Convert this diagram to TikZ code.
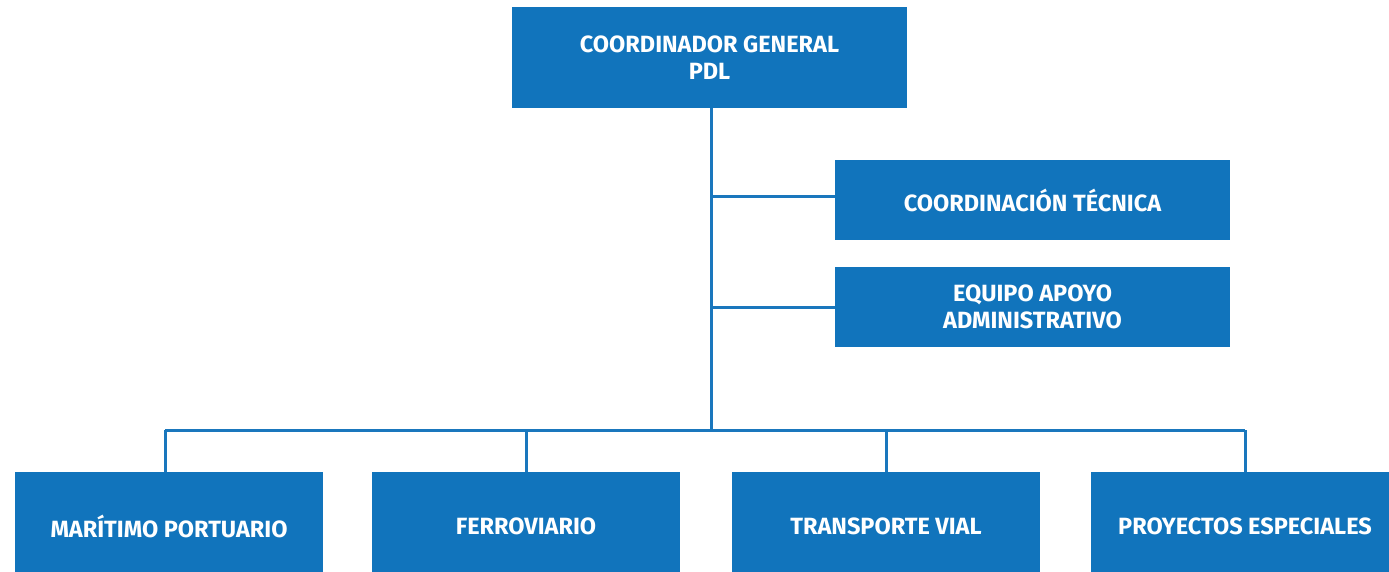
\documentclass[tikz,border=0pt]{standalone}
\usepackage{fontspec}
\setmainfont{Fira Sans}
\definecolor{boxblue}{HTML}{1174BC}
\definecolor{lineblue}{HTML}{1A77BD}
\begin{document}
\begin{tikzpicture}[x=1pt,y=-1pt,
  unit/.style={draw=none,fill=boxblue,text=white,align=center,inner sep=0pt,
    font=\fontsize{23.5}{27}\selectfont\bfseries},
  link/.style={draw=lineblue,line width=3pt}]
\useasboundingbox (0,0) rectangle (1389,572);
\clip (0,0) rectangle (1389,572);
\node[unit,minimum width=395pt,minimum height=101pt] (top) at (709.5,57.5) {COORDINADOR GENERAL\\PDL};
\node[unit,minimum width=395pt,minimum height=80pt] (ct) at (1032.5,200) {COORDINACIÓN TÉCNICA};
\node[unit,minimum width=395pt,minimum height=80pt] (ea) at (1032.5,307) {EQUIPO APOYO\\ADMINISTRATIVO};
\node[unit,minimum width=308pt,minimum height=108pt] (b1) at (169,526) {MARÍTIMO PORTUARIO};
\node[unit,minimum width=308pt,minimum height=108pt] (b2) at (526,526) {FERROVIARIO};
\node[unit,minimum width=308pt,minimum height=108pt] (b3) at (886,526) {TRANSPORTE VIAL};
\node[unit,minimum width=308pt,minimum height=108pt] (b4) at (1245,526) {PROYECTOS ESPECIALES};
\coordinate (bus) at (711,430);
\draw[link] (top.south -| bus) -- (bus);
\draw[link] ([yshift=3pt]ct.west) -- ([yshift=3pt]ct.west -| bus);
\draw[link] (ea.west) -- (ea.west -| bus);
\draw[link] ([xshift=-4pt]b1.north |- bus) -- (b4.north |- bus);
\draw[link] ([xshift=-4pt]b1.north) -- ([xshift=-4pt]b1.north |- bus);
\foreach \b in {b2,b3,b4} \draw[link] (\b.north) -- (\b.north |- bus);
\end{tikzpicture}
\end{document}
